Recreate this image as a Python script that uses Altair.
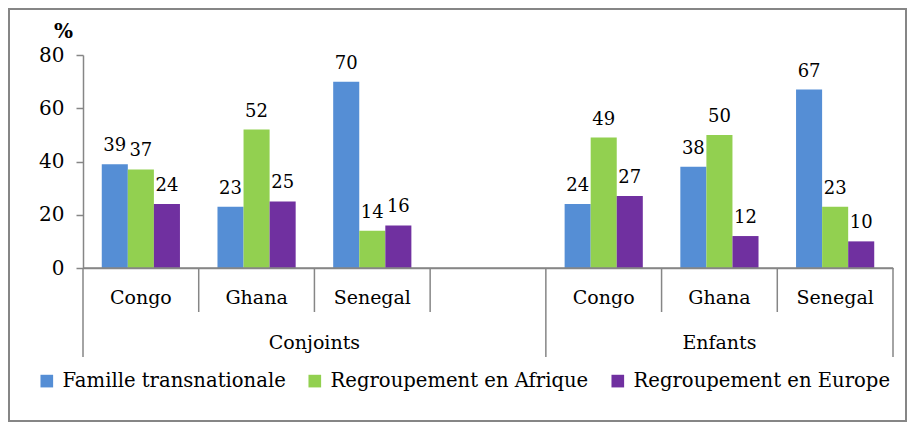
import altair as alt
import pandas as pd

groups = ["Conjoints", "Conjoints", "Conjoints", "Enfants", "Enfants", "Enfants"]
countries = ["Congo", "Ghana", "Senegal", "Congo", "Ghana", "Senegal"]
series = ["Famille transnationale", "Regroupement en Afrique", "Regroupement en Europe"]
famille = [39, 23, 70, 24, 38, 67]
afrique = [37, 52, 14, 49, 50, 23]
europe = [24, 25, 16, 27, 12, 10]
colors = ["#558ED5", "#92D050", "#7030A0"]
slots = ["Conjoints|Congo", "Conjoints|Ghana", "Conjoints|Senegal", "Conjoints|",
         "Enfants|Congo", "Enfants|Ghana", "Enfants|Senegal"]
y_ticks = [0, 20, 40, 60, 80]

FONT = "DejaVu Serif"
GRAY = "#868686"
H = 213

rows = []
for s, vals in zip(series, [famille, afrique, europe]):
    for g, c, v in zip(groups, countries, vals):
        rows.append({"slot": f"{g}|{c}", "series": s, "value": v})
bars_df = pd.DataFrame(rows)
cats_df = pd.DataFrame({"slot": [f"{g}|{c}" for g, c in zip(groups, countries)],
                        "country": countries})

xscale = alt.Scale(domain=slots, type="band", paddingInner=0, paddingOuter=0)
yscale = alt.Scale(domain=[0, 80])
xoff_scale = alt.Scale(domain=series, paddingOuter=0.72, paddingInner=0)
xaxis = alt.Axis(labels=False, ticks=False, title=None, domain=True, domainColor=GRAY, domainWidth=1.5)

bars = alt.Chart(bars_df).mark_bar().encode(
    x=alt.X("slot:N", scale=xscale, sort=slots, axis=xaxis),
    xOffset=alt.XOffset("series:N", scale=xoff_scale),
    y=alt.Y("value:Q", scale=yscale,
            axis=alt.Axis(values=y_ticks, grid=False, title="%", titleAngle=0, titleX=-20, titleY=-14,
                          titleFontSize=20, titleFontWeight="bold", titleFont=FONT, titleColor="black",
                          labelFont=FONT, labelFontSize=20, labelColor="black", labelPadding=12,
                          tickSize=7, tickColor=GRAY, tickWidth=1.5, domainColor=GRAY, domainWidth=1.5)),
    color=alt.Color("series:N", scale=alt.Scale(domain=series, range=colors),
                    legend=alt.Legend(title=None, orient="none", direction="horizontal",
                                      legendX=-46, legendY=316, symbolType="square", symbolSize=160,
                                      symbolStrokeWidth=0, labelFont=FONT, labelFontSize=19.6,
                                      labelColor="black", labelOffset=6, columnPadding=19,
                                      labelLimit=400)),
)

labels = alt.Chart(bars_df).mark_text(font=FONT, fontSize=18, baseline="bottom", dy=-9, color="black").encode(
    x=alt.X("slot:N", scale=xscale, axis=xaxis),
    xOffset=alt.XOffset("series:N", scale=xoff_scale),
    y=alt.Y("value:Q", scale=yscale),
    text="value:Q",
)

baseline = alt.Chart(pd.DataFrame({"v": [0]})).mark_rule(color=GRAY, strokeWidth=1.5).encode(
    y=alt.Y("v:Q", scale=yscale),
    x=alt.value(0), x2=alt.value(810),
)

country_text = alt.Chart(cats_df).mark_text(font=FONT, fontSize=19, baseline="middle", color="black").encode(
    x=alt.X("slot:N", scale=xscale, axis=xaxis),
    y=alt.value(H + 30),
    text="country:N",
)

short_sep = alt.Chart(pd.DataFrame({"slot": [slots[1], slots[2], slots[3], slots[5], slots[6]]})).mark_rule(
    color=GRAY, strokeWidth=1.5).encode(
    x=alt.X("slot:N", scale=xscale, axis=xaxis, bandPosition=0),
    y=alt.value(H), y2=alt.value(H + 44),
)

long_sep = alt.Chart(pd.DataFrame({"slot": [slots[0], slots[4]]})).mark_rule(
    color=GRAY, strokeWidth=1.5).encode(
    x=alt.X("slot:N", scale=xscale, axis=xaxis, bandPosition=0),
    y=alt.value(H), y2=alt.value(H + 89),
)

end_sep = alt.Chart(pd.DataFrame({"slot": [slots[6]]})).mark_rule(
    color=GRAY, strokeWidth=1.5).encode(
    x=alt.X("slot:N", scale=xscale, axis=xaxis, bandPosition=1),
    y=alt.value(H), y2=alt.value(H + 89),
)

grp1 = alt.Chart(pd.DataFrame({"slot": [slots[2]], "g": ["Conjoints"]})).mark_text(
    font=FONT, fontSize=19, baseline="middle", color="black").encode(
    x=alt.X("slot:N", scale=xscale, axis=xaxis, bandPosition=0),
    y=alt.value(H + 75), text="g:N",
)

grp2 = alt.Chart(pd.DataFrame({"slot": [slots[5]], "g": ["Enfants"]})).mark_text(
    font=FONT, fontSize=19, baseline="middle", color="black").encode(
    x=alt.X("slot:N", scale=xscale, axis=xaxis, bandPosition=0.5),
    y=alt.value(H + 75), text="g:N",
)

border = alt.Chart(pd.DataFrame({"a": [0]})).mark_rect(fill=None, stroke=GRAY, strokeWidth=2).encode(
    x=alt.value(-74), x2=alt.value(823), y=alt.value(-46), y2=alt.value(366),
)

chart = alt.layer(border, bars, labels, baseline, country_text, short_sep, long_sep, end_sep, grp1, grp2).properties(
    width=810, height=H,
    autosize=alt.AutoSizeParams(type="none"),
    padding={"left": 75, "top": 47, "right": 14, "bottom": 155},
).configure(font=FONT).configure_view(stroke=None)

chart.save("out.html", embed_options={"renderer": "svg", "actions": False})
